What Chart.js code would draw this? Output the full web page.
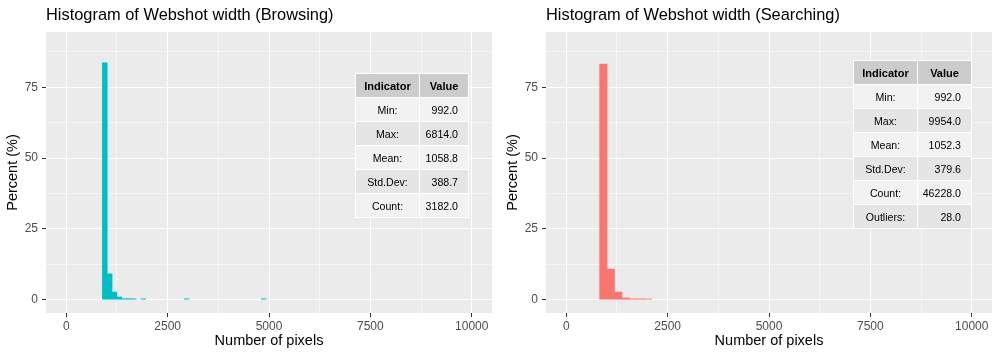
<!DOCTYPE html>
<html lang="en">
<head>
  <meta charset="UTF-8" />
  <title>Histogram of Webshot width</title>
  <script src="https://cdn.jsdelivr.net/npm/chart.js"></script>
  <style>
    body { margin: 0; background: #fff; }
    #wrap { display: flex; width: 1000px; height: 358px; }
    .panel { position: relative; width: 500px; height: 358px; }
    table.stats {
      position: absolute;
      border-collapse: collapse;
      font-family: "Liberation Sans", Arial, sans-serif;
      color: #000;
    }
    table.stats th, table.stats td { border: 1px solid #fff; height: 23px; padding: 0; }
    table.stats th { background: #ccc; font-size: 11px; font-weight: bold; text-align: center; }
    table.stats td { font-size: 10.6px; }
    table.stats td.lab { text-align: center; }
    table.stats td.val { text-align: right; padding-right: 10px; }
    table.stats tr:nth-child(even) td { background: #f2f2f2; }
    table.stats tr:nth-child(odd) td { background: #e5e5e5; }
  </style>
</head>
<body>
  <div id="wrap">
    <div class="panel"><canvas id="browse" width="500" height="358"></canvas>
      <table class="stats" id="browse-table" style="left:355px; top:73px;"></table></div>
    <div class="panel"><canvas id="search" width="500" height="358"></canvas>
      <table class="stats" id="search-table" style="left:353px; top:60px;"></table></div>
  </div>
  <script>
    // bin centres (pixels width) and share of webshots in each bin
    const browseBins = [950.5, 1069.3, 1188.1, 1306.9, 1425.7, 1544.5, 1663.4, 1901.0, 2970.4, 4871.5];
    const browsePct = [83.6, 9.1, 2.7, 0.95, 0.35, 0.35, 0.3, 0.3, 0.3, 0.3];
    const searchBins = [914.6, 1097.5, 1280.4, 1463.3, 1646.2, 1829.1, 2012.0];
    const searchPct = [83.2, 10.8, 2.7, 0.6, 0.3, 0.3, 0.25];

    const xMajor = [0, 2500, 5000, 7500, 10000];
    const xMinor = [1250, 3750, 6250, 8750];
    const yMajor = [0, 25, 50, 75];
    const yMinor = [12.5, 37.5, 62.5, 87.5];

    const browseLabels = ['Min:', 'Max:', 'Mean:', 'Std.Dev:', 'Count:'];
    const browseValues = ['992.0', '6814.0', '1058.8', '388.7', '3182.0'];
    const searchLabels = ['Min:', 'Max:', 'Mean:', 'Std.Dev:', 'Count:', 'Outliers:'];
    const searchValues = ['992.0', '9954.0', '1052.3', '379.6', '46228.0', '28.0'];

    const FONT = '"Liberation Sans", Arial, sans-serif';

    function fillTable(id, labels, values, valWidth) {
      let html = `<tr><th style="width:63px">Indicator</th><th style="width:${valWidth}px">Value</th></tr>`;
      labels.forEach((l, i) => {
        html += `<tr><td class="lab">${l}</td><td class="val">${values[i]}</td></tr>`;
      });
      document.getElementById(id).innerHTML = html;
    }

    function setTicks(major, minor) {
      return axis => {
        axis.ticks = major.concat(minor).sort((a, b) => a - b).map(v => ({ value: v }));
      };
    }

    function makeChart(id, title, bins, pct, color) {
      new Chart(document.getElementById(id), {
        type: 'bar',
        data: {
          datasets: [{
            data: bins.map((b, i) => ({ x: b, y: pct[i] })),
            backgroundColor: color,
            borderWidth: 0,
            barPercentage: 1,
            categoryPercentage: 1
          }]
        },
        options: {
          responsive: false,
          animation: false,
          layout: { padding: { left: 0, right: 8, top: 0, bottom: 0 } },
          plugins: {
            legend: { display: false },
            tooltip: { enabled: false },
            title: {
              display: true,
              text: title,
              align: 'start',
              fullSize: false,
              color: '#000',
              font: { family: FONT, size: 16.4, weight: 'normal' },
              padding: { top: 5.4, bottom: 6.9 }
            }
          },
          scales: {
            x: {
              type: 'linear',
              min: -500,
              max: 10500,
              offset: false,
              afterBuildTicks: setTicks(xMajor, xMinor),
              afterFit: s => { s.height = 45; },
              ticks: {
                autoSkip: false,
                maxRotation: 0,
                padding: 2,
                color: '#4d4d4d',
                font: { family: FONT, size: 12 },
                callback: v => xMajor.includes(v) ? String(v) : ''
              },
              grid: {
                offset: false,
                color: '#fff',
                lineWidth: c => xMajor.includes(c.tick.value) ? 1 : 0.5,
                tickColor: c => xMajor.includes(c.tick.value) ? '#333' : 'rgba(0,0,0,0)',
                tickLength: 4,
                tickWidth: 1
              },
              border: { display: false },
              title: {
                display: true,
                text: 'Number of pixels',
                color: '#000',
                font: { family: FONT, size: 14.5 },
                padding: { top: 0, bottom: 8 }
              }
            },
            y: {
              min: -4.7,
              max: 94.5,
              afterBuildTicks: setTicks(yMajor, yMinor),
              afterFit: s => { s.width = 46; },
              ticks: {
                padding: 4,
                color: '#4d4d4d',
                font: { family: FONT, size: 12 },
                callback: v => yMajor.includes(v) ? String(v) : ''
              },
              grid: {
                color: '#fff',
                lineWidth: c => yMajor.includes(c.tick.value) ? 1 : 0.5,
                tickColor: c => yMajor.includes(c.tick.value) ? '#333' : 'rgba(0,0,0,0)',
                tickLength: 4,
                tickWidth: 1
              },
              border: { display: false },
              title: {
                display: true,
                text: 'Percent (%)',
                color: '#000',
                font: { family: FONT, size: 14.5 },
                padding: { top: 4.4, bottom: 0 }
              }
            }
          }
        },
        plugins: [{
          id: 'panelBg',
          beforeDraw(chart) {
            const a = chart.chartArea;
            chart.ctx.save();
            chart.ctx.fillStyle = '#ebebeb';
            chart.ctx.fillRect(a.left, a.top, a.right - a.left, a.bottom - a.top);
            chart.ctx.restore();
          }
        }]
      });
    }

    makeChart('browse', 'Histogram of Webshot width (Browsing)', browseBins, browsePct, '#00bfc4');
    makeChart('search', 'Histogram of Webshot width (Searching)', searchBins, searchPct, '#f8766d');
    fillTable('browse-table', browseLabels, browseValues, 48);
    fillTable('search-table', searchLabels, searchValues, 53);
  </script>
</body>
</html>
